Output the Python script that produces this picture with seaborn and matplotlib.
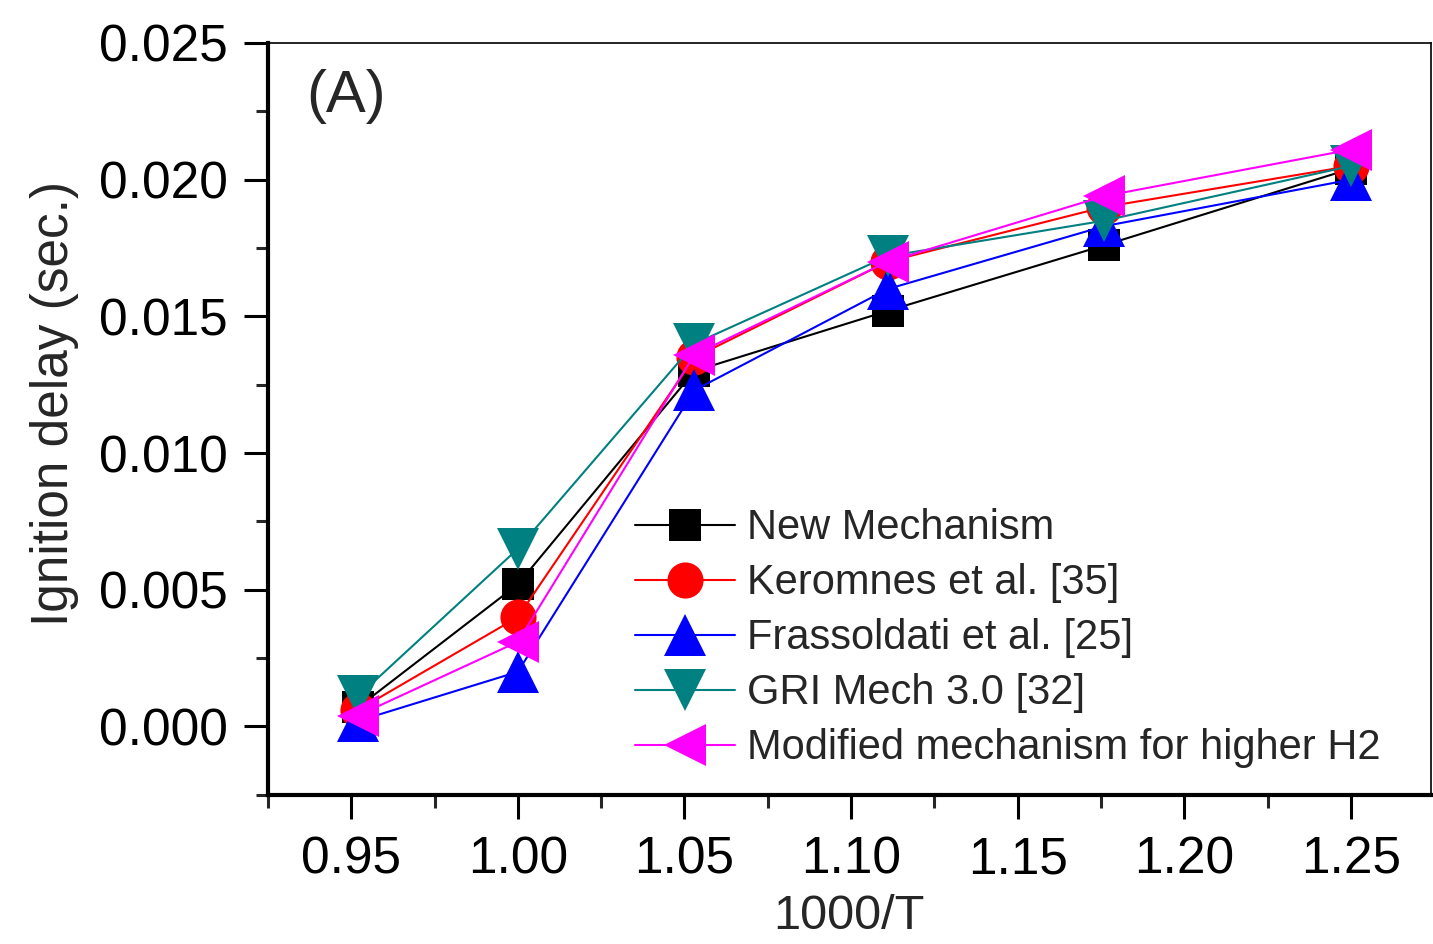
import matplotlib
matplotlib.use("Agg")
import matplotlib.pyplot as plt
import seaborn as sns
import numpy as np
from matplotlib.ticker import MultipleLocator, FormatStrFormatter

sns.set_style("ticks")
plt.rcParams['font.family'] = ['Liberation Sans', 'DejaVu Sans']

x_vals = [0.952, 1.000, 1.053, 1.111, 1.176, 1.250]
new_mech = [0.0007, 0.0052, 0.0130, 0.0152, 0.0176, 0.0204]
keromnes = [0.0006, 0.0040, 0.0135, 0.0170, 0.0190, 0.0205]
frassoldati = [0.0002, 0.0020, 0.0123, 0.0160, 0.0183, 0.0200]
gri = [0.0011, 0.0065, 0.0140, 0.0172, 0.0185, 0.0205]
modified = [0.0004, 0.0031, 0.0136, 0.0170, 0.0194, 0.0211]

labels = ["New Mechanism", "Keromnes et al. [35]", "Frassoldati et al. [25]",
          "GRI Mech 3.0 [32]", "Modified mechanism for higher H2"]
series = [new_mech, keromnes, frassoldati, gri, modified]
colors = ["#000000", "#FF0000", "#0000FF", "#008080", "#FF00FF"]
markers = ["s", "o", "^", "v", "<"]
msizes = [23, 26, 30, 30, 30]

fig = plt.figure(figsize=(14.33, 9.44), dpi=100)
ax = fig.add_axes([0.187, 0.158, 0.8115, 0.7965])

for ys, lab, c, m, ms in zip(series, labels, colors, markers, msizes):
    sns.lineplot(x=x_vals, y=ys, ax=ax, color=c, marker=m, markersize=ms,
                 markeredgewidth=0, linewidth=1.5, label=lab, legend=True)

ax.set_xlim(0.925, 1.274)
ax.set_ylim(-0.0025, 0.025)
ax.xaxis.set_major_locator(MultipleLocator(0.05))
ax.xaxis.set_minor_locator(MultipleLocator(0.025))
ax.yaxis.set_major_locator(MultipleLocator(0.005))
ax.yaxis.set_minor_locator(MultipleLocator(0.0025))
ax.xaxis.set_major_formatter(FormatStrFormatter('%.2f'))
ax.yaxis.set_major_formatter(FormatStrFormatter('%.3f'))

ax.tick_params(axis='both', which='major', direction='out', length=17, width=2.2,
               labelsize=37, pad=12, colors='black')
ax.tick_params(axis='both', which='minor', direction='out', length=9, width=2.2)
for side in ['left', 'bottom']:
    ax.spines[side].set_linewidth(3)
    ax.spines[side].set_color('black')
for side in ['top', 'right']:
    ax.spines[side].set_visible(True)
    ax.spines[side].set_linewidth(1.2)
    ax.spines[side].set_color('black')

ax.set_xlabel("1000/T", fontsize=35, labelpad=7)
ax.set_ylabel("Ignition delay (sec.)", fontsize=37, labelpad=14)
ax.yaxis.label.set_y(0.52)

ax.text(0.033, 0.965, "(A)", transform=ax.transAxes, fontsize=43, va='top', ha='left')

leg = ax.legend(loc='upper left', bbox_to_anchor=(0.3156, 0.381), frameon=False,
                fontsize=30, handlelength=2.4, handletextpad=0.3, labelspacing=0.36,
                borderpad=0, borderaxespad=0)

fig.savefig("out.png", dpi=100)
